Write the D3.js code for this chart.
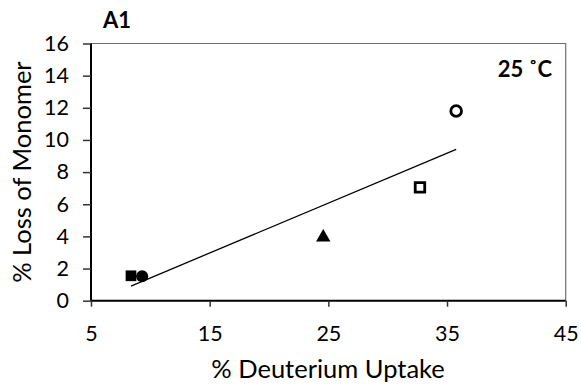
<!DOCTYPE html>
<html>
<head>
<meta charset="utf-8">
<script src="https://cdn.jsdelivr.net/npm/d3@7"></script>
<style>
  html, body { margin: 0; padding: 0; background: #fff; }
  svg { display: block; }
  text { font-family: Lato, "Open Sans", sans-serif; fill: #000; }
</style>
</head>
<body>
<svg id="chart" width="581" height="388"></svg>
<script>
// Samples: deuterium uptake (%) vs loss of monomer (%), 25 °C
const sampleNames   = ["s1", "s2", "s3", "s4", "s5"];
const uptakeValues  = [8.37, 9.31, 24.57, 32.72, 35.77];
const lossValues    = [1.55, 1.52, 4.01, 7.05, 11.8];
const markerShapes  = ["square", "circle", "triangle", "square", "circle"];
const markerFilled  = [true, true, true, false, false];
const xTickValues   = [5, 15, 25, 35, 45];
const yTickValues   = [0, 2, 4, 6, 8, 10, 12, 14, 16];

const svg = d3.select("#chart");
const plot = { left: 91, right: 565.7, top: 43.5, bottom: 300.7 };

const x = d3.scaleLinear().domain([5, 45]).range([plot.left, plot.right]);
const y = d3.scaleLinear().domain([0, 16]).range([plot.bottom, plot.top]);

// plot-area frame (top and right edges)
svg.append("path")
  .attr("d", `M${plot.left},${plot.top}H${plot.right}V${plot.bottom}`)
  .attr("fill", "none")
  .attr("stroke", "#707070")
  .attr("stroke-width", 1.2);

// y axis
const yAxis = svg.append("g")
  .attr("transform", `translate(${plot.left},0)`)
  .call(d3.axisLeft(y).tickValues(yTickValues).tickSize(8).tickPadding(14)
    .tickFormat(d3.format("d")));
yAxis.selectAll(".tick line").attr("stroke", "#333").attr("stroke-width", 1.5);
yAxis.selectAll(".tick text").attr("font-size", 21.5).attr("font-family", "Lato");

// x axis
const xAxis = svg.append("g")
  .attr("transform", `translate(0,${plot.bottom})`)
  .call(d3.axisBottom(x).tickValues(xTickValues).tickSize(6).tickPadding(19)
    .tickFormat(d3.format("d")));
xAxis.selectAll(".tick line").attr("stroke", "#333").attr("stroke-width", 1.5);
xAxis.selectAll(".tick text").attr("font-size", 21.5).attr("font-family", "Lato");

// axis lines without the outer end ticks
yAxis.select(".domain").attr("d", `M0,${plot.bottom}V${plot.top}`)
  .attr("stroke", "#000").attr("stroke-width", 2);
xAxis.select(".domain").attr("d", `M${plot.left},0H${plot.right}`)
  .attr("stroke", "#000").attr("stroke-width", 2);

// least-squares trendline through the samples
const mx = d3.mean(uptakeValues), my = d3.mean(lossValues);
const sxy = d3.sum(uptakeValues, (v, i) => (v - mx) * (lossValues[i] - my));
const sxx = d3.sum(uptakeValues, v => (v - mx) * (v - mx));
const slope = sxy / sxx, intercept = my - slope * mx;
const [x0, x1] = d3.extent(uptakeValues);
svg.append("line")
  .attr("x1", x(x0)).attr("y1", y(intercept + slope * x0))
  .attr("x2", x(x1)).attr("y2", y(intercept + slope * x1))
  .attr("stroke", "#000").attr("stroke-width", 1.3);

// markers
const symbolType = { square: d3.symbolSquare, circle: d3.symbolCircle, triangle: d3.symbolTriangle };
const symbolSize = { square: 115, circle: 115, triangle: 90 };
svg.append("g").selectAll("path")
  .data(sampleNames.map((n, i) => ({ n, u: uptakeValues[i], l: lossValues[i], s: markerShapes[i], f: markerFilled[i] })))
  .join("path")
  .attr("transform", d => `translate(${x(d.u)},${y(d.l) + (d.s === "triangle" ? 1 : 0)})`)
  .attr("d", d => d3.symbol(symbolType[d.s], d.f ? symbolSize[d.s] : 90)())
  .attr("fill", d => d.f ? "#000" : "#fff")
  .attr("stroke", "#000")
  .attr("stroke-width", d => d.f ? 0 : 2.8);

// titles
svg.append("text")
  .attr("x", 103).attr("y", 28)
  .attr("font-size", 22).attr("font-weight", "bold")
  .text("A1");

svg.append("text")
  .attr("x", 552).attr("y", 77)
  .attr("text-anchor", "end")
  .attr("font-size", 22).attr("font-weight", "bold")
  .text("25 ˚C");

svg.append("text")
  .attr("x", 328).attr("y", 378)
  .attr("text-anchor", "middle")
  .attr("font-size", 25.5)
  .text("% Deuterium Uptake");

svg.append("text")
  .attr("transform", `translate(31,${(plot.top + plot.bottom) / 2}) rotate(-90)`)
  .attr("text-anchor", "middle")
  .attr("font-size", 25.5)
  .text("% Loss of Monomer");
</script>
</body>
</html>
